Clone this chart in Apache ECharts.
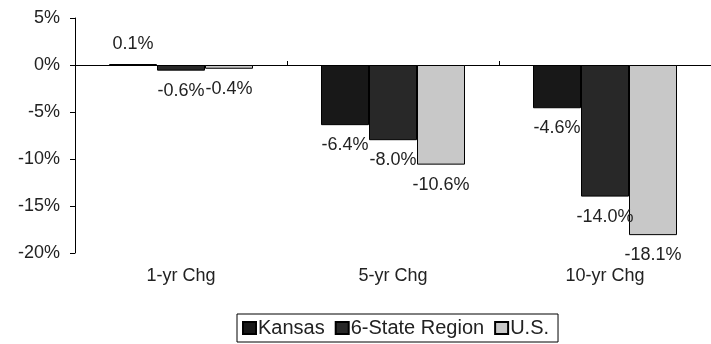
<!DOCTYPE html>
<html><head><meta charset="utf-8">
<script src="https://cdn.jsdelivr.net/npm/echarts@6/dist/echarts.min.js"></script>
<style>html,body{margin:0;padding:0;background:#fff}#c{width:711px;height:344px}</style>
</head><body><div id="c"></div>
<script>
const categories = ['1-yr Chg', '5-yr Chg', '10-yr Chg'];
const seriesNames = ['Kansas', '6-State Region', 'U.S.'];
const kansas = [0.1, -6.4, -4.6];
const region = [-0.6, -8.0, -14.0];
const us = [-0.4, -10.6, -18.1];
const yTicks = [5, 0, -5, -10, -15, -20];

const font = 'Liberation Sans, Arial, sans-serif';
const fs = 18;
const colors = ['#181818', '#282828', '#c8c8c8'];
const chart = echarts.init(document.getElementById('c'), null, {renderer: 'canvas'});
function mk(name, data, i) {
  return {
    name, type: 'bar', xAxisIndex: 0,
    data: data.map(v => ({value: v, label: {position: v >= 0 ? 'top' : 'bottom'}})),
    barWidth: 48, barGap: '0%',
    itemStyle: {color: colors[i], borderColor: '#000', borderWidth: 1},
    label: {show: true, distance: 11, formatter: p => p.value.toFixed(1) + '%',
      color: '#222', fontSize: fs, fontFamily: font}
  };
}
chart.setOption({
  animation: false,
  textStyle: {fontFamily: font},
  grid: {left: 75, right: -12, top: 18, bottom: 91, containLabel: false},
  legend: {
    data: seriesNames, left: 237, top: 314,
    borderColor: '#000', borderWidth: 1, padding: [4, 9, 4, 5], itemGap: 10,
    itemWidth: 13, itemHeight: 12, icon: 'rect',
    textStyle: {fontSize: 20, color: '#222', fontFamily: font, padding: [0, 0, 0, -3]}
  },
  xAxis: [{
    type: 'category', data: categories, position: 'bottom',
    axisLine: {show: false, onZero: false}, axisTick: {show: false},
    axisLabel: {color: '#222', fontSize: fs, margin: 14, fontFamily: font}
  }, {
    type: 'category', data: categories,
    axisLine: {show: true, onZero: true, lineStyle: {color: '#000', width: 1}},
    axisTick: {show: true, length: 4, lineStyle: {color: '#000'}},
    axisLabel: {show: false}
  }],
  yAxis: {
    type: 'value', min: -20, max: 5, interval: 5,
    axisLine: {show: true, lineStyle: {color: '#000'}},
    axisTick: {show: true, length: 5, lineStyle: {color: '#000'}},
    splitLine: {show: false},
    axisLabel: {color: '#222', fontSize: fs, margin: 15, fontFamily: font,
      formatter: v => yTicks.includes(v) ? v + '%' : ''}
  },
  series: [mk(seriesNames[0], kansas, 0), mk(seriesNames[1], region, 1), mk(seriesNames[2], us, 2),
    {type: 'bar', xAxisIndex: 1, data: [], silent: true}]
});
</script></body></html>
